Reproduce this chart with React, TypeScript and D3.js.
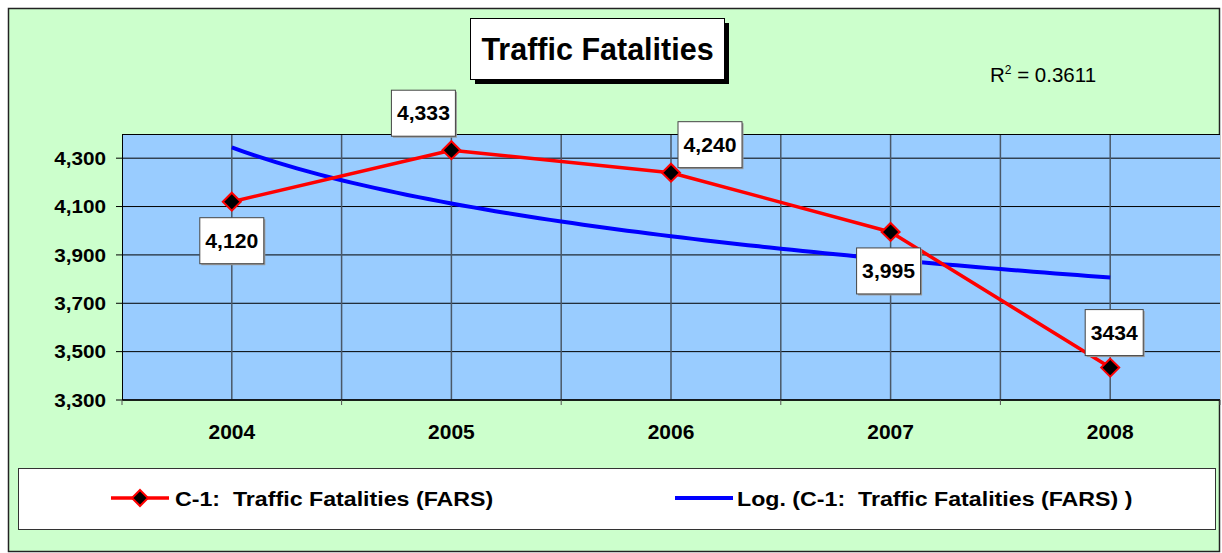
import React from "react";
import * as d3 from "d3";

const years = ["2004", "2005", "2006", "2007", "2008"];
const fatalities = [4120, 4333, 4240, 3995, 3434];
const dataLabels = ["4,120", "4,333", "4,240", "3,995", "3434"];
const yTicks = [3300, 3500, 3700, 3900, 4100, 4300];
const seriesName = "C-1:  Traffic Fatalities (FARS)";
const trendName = "Log. (C-1:  Traffic Fatalities (FARS) )";
const titleText = "Traffic Fatalities";
const r2Text = "0.3611";

// label box offsets relative to point (layout, not data)
const labelOffsets: [number, number][] = [
  [0, 39],
  [-28, -37],
  [39, -28],
  [-2, 39],
  [4, -35],
];

const W = 1222;
const H = 553;
const FONT = "'Liberation Sans', Arial, Helvetica, sans-serif";

function SText(props: {
  x: number;
  y: number;
  sx?: number;
  anchor?: string;
  size: number;
  bold?: boolean;
  dy?: string;
  children: React.ReactNode;
}) {
  const { x, y, sx = 1, anchor = "start", size, bold = true, dy, children } = props;
  return (
    <text
      transform={`translate(${x},${y}) scale(${sx},1)`}
      textAnchor={anchor}
      fontSize={size}
      fontWeight={bold ? "bold" : "normal"}
      dy={dy}
      fill="#000"
      style={{ whiteSpace: "pre" }}
    >
      {children}
    </text>
  );
}

export default function App() {
  const left = 122, right = 1220, top = 134, bottom = 400;
  const x = d3.scaleBand<string>().domain(years).range([left, right]).padding(0);
  const bw = x.bandwidth();
  const cx = (i: number) => (x(years[i]) as number) + bw / 2;
  const y = d3.scaleLinear().domain([3300, 4400]).range([bottom, top]);

  // logarithmic trendline (least squares on ln(index))
  const lx = fatalities.map((_, i) => Math.log(i + 1));
  const mx = d3.mean(lx) as number;
  const my = d3.mean(fatalities) as number;
  const b =
    d3.sum(lx.map((v, i) => (v - mx) * (fatalities[i] - my))) /
    d3.sum(lx.map((v) => (v - mx) * (v - mx)));
  const a = my - b * mx;
  const xIdx = d3.scaleLinear().domain([1, 5]).range([cx(0), cx(4)]);
  const trendPts: [number, number][] = d3.range(1, 5.0001, 0.05).map((t) => [
    xIdx(t),
    y(a + b * Math.log(t)),
  ]);
  const line = d3.line<[number, number]>();
  const dataPts: [number, number][] = fatalities.map((v, i) => [cx(i), y(v)]);

  const diamond = (px: number, py: number, r: number) =>
    `M${px},${py - r}L${px + r},${py}L${px},${py + r}L${px - r},${py}Z`;

  const halfLines = d3.range(1, years.length * 2).map((i) => left + (i * bw) / 2);

  return (
    <svg
      width={W}
      height={H}
      style={{ position: "absolute", left: 0, top: 0 }}
      fontFamily={FONT}
    >
      <rect x={0} y={0} width={W} height={H} fill="#ffffff" />
      <rect x={8.5} y={8.5} width={1211} height={543} fill="#CCFFCC" stroke="#222" strokeWidth={1.5} />

      {/* plot area */}
      <rect x={left} y={top} width={right - left} height={bottom - top} fill="#99CCFF" />
      {yTicks.map((t) => (
        <line key={t} x1={left} x2={right} y1={y(t)} y2={y(t)} stroke="#000" strokeWidth={1} />
      ))}
      {halfLines.map((hx, i) => (
        <line key={i} x1={hx} x2={hx} y1={top} y2={bottom} stroke="#4a5868" strokeWidth={1.5} />
      ))}
      <line x1={left} x2={right} y1={top + 0.5} y2={top + 0.5} stroke="#000" strokeWidth={1} />
      <line x1={left + 0.5} x2={left + 0.5} y1={top} y2={bottom} stroke="#000" strokeWidth={1} />
      <line x1={left} x2={right} y1={bottom} y2={bottom} stroke="#000" strokeWidth={1.5} />

      {/* y axis */}
      {yTicks.map((t) => (
        <g key={t}>
          <line x1={116} x2={left} y1={y(t)} y2={y(t)} stroke="#000" strokeWidth={1} />
          <SText x={106} y={y(t)} dy="0.36em" anchor="end" size={18.5} sx={1.12}>
            {d3.format(",")(t)}
          </SText>
        </g>
      ))}

      {/* x axis */}
      {d3.range(0, years.length + 1).map((i) => (
        <line
          key={i}
          x1={left + i * bw}
          x2={left + i * bw}
          y1={bottom}
          y2={bottom + 5}
          stroke="#555"
          strokeWidth={1}
        />
      ))}
      {years.map((yr, i) => (
        <SText key={yr} x={cx(i)} y={439} anchor="middle" size={20} sx={1.05}>
          {yr}
        </SText>
      ))}

      {/* trend line */}
      <path d={line(trendPts) as string} fill="none" stroke="#0000FF" strokeWidth={4} />

      {/* data line */}
      <path d={line(dataPts) as string} fill="none" stroke="#FF0000" strokeWidth={3.5} strokeLinejoin="round" />
      {dataPts.map(([px, py], i) => (
        <path key={i} d={diamond(px, py, 9)} fill="#000" stroke="#FF0000" strokeWidth={2} />
      ))}

      {/* data labels */}
      {dataPts.map(([px, py], i) => {
        const [ox, oy] = labelOffsets[i];
        const bwl = dataLabels[i].includes(",") ? 64 : 58;
        const bhl = 46;
        const bx = px + ox - bwl / 2;
        const by = py + oy - bhl / 2;
        return (
          <g key={i}>
            <rect x={bx + 1.5} y={by + 1.5} width={bwl} height={bhl} fill="#9a9a9a" />
            <rect x={bx} y={by} width={bwl} height={bhl} fill="#fff" stroke="#444" strokeWidth={1} />
            <SText x={px + ox} y={py + oy} dy="0.36em" anchor="middle" size={20} sx={1.06}>
              {dataLabels[i]}
            </SText>
          </g>
        );
      })}

      {/* title */}
      <rect x={475} y={23} width={254} height={61} fill="#000" />
      <rect x={470.5} y={18.5} width={254} height={61} fill="#fff" stroke="#000" strokeWidth={1} />
      <SText x={597.5} y={59.5} anchor="middle" size={30.5}>
        {titleText}
      </SText>

      {/* R squared */}
      <text x={990} y={82} fontSize={20.5} fill="#000">
        R<tspan fontSize={12} dy={-8}>2</tspan>
        <tspan dy={8}>{` = ${r2Text}`}</tspan>
      </text>

      {/* legend */}
      <rect x={18.5} y={468.5} width={1197} height={61} fill="#fff" stroke="#333" strokeWidth={1} />
      <line x1={111} x2={169} y1={498} y2={498} stroke="#FF0000" strokeWidth={3.5} />
      <path d={diamond(140, 498, 8)} fill="#000" stroke="#FF0000" strokeWidth={2} />
      <SText x={175} y={498} dy="0.36em" size={21} sx={1.105}>
        {seriesName}
      </SText>
      <line x1={675} x2={733} y1={498} y2={498} stroke="#0000FF" strokeWidth={4} />
      <SText x={737} y={498} dy="0.36em" size={21} sx={1.105}>
        {trendName}
      </SText>
    </svg>
  );
}
